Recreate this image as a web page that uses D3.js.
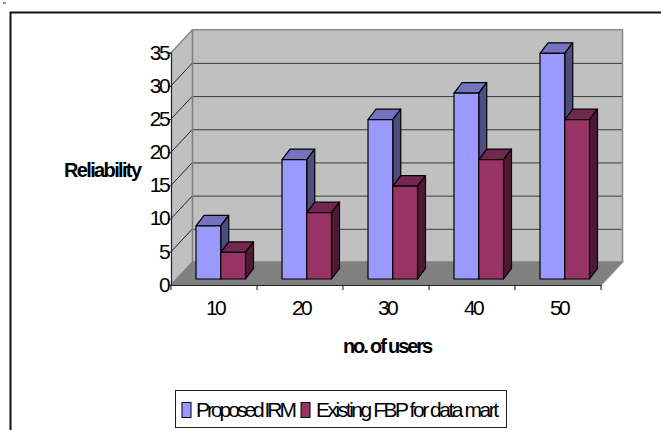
<!DOCTYPE html>
<html><head><meta charset="utf-8">
<script src="https://cdn.jsdelivr.net/npm/d3@7/dist/d3.min.js"></script>
<style>html,body{margin:0;padding:0;background:#fff}svg{display:block}text{font-family:"Liberation Sans",Arial,sans-serif;fill:#000}</style>
</head><body><svg id="c" width="661" height="430"></svg>
<script>
const categories=["10","20","30","40","50"];
const seriesNames=["Proposed IRM","Existing FBP for data mart"];
const proposedIRM=[8,18,24,28,34];
const existingFBP=[4,10,14,18,24];
const yTicks=[0,5,10,15,20,25,30,35];
const faces=[{front:"#9999ff",top:"#7373bf",side:"#4d4d80"},{front:"#993366",top:"#732650",side:"#4d1933"}];

const svg=d3.select("#c");
const L=171,R=601,B=285,T=52.7,DX=21.5,DY=23;
const x=d3.scaleBand().domain(categories).range([L,R]);
const sub=d3.scaleBand().domain(seriesNames).range([25,74.5]);
const y=d3.scaleLinear().domain([0,35]).range([B,T]);
const poly=(pts)=>"M"+pts.map(p=>p.join(",")).join("L")+"Z";

svg.append("rect").attr("x",3).attr("y",2).attr("width",3).attr("height",2).attr("fill","#999");
svg.append("path").attr("d",`M10.5,430V12.5H661`).attr("fill","none").attr("stroke","#111").attr("stroke-width",2);

// walls
svg.append("path").attr("d",poly([[L,T],[L+DX,T-DY],[L+DX,B-DY],[L,B]])).attr("fill","#c0c0c0");
svg.append("path").attr("d",poly([[L+DX,T-DY],[R+DX,T-DY],[R+DX,B-DY],[L+DX,B-DY]])).attr("fill","#c0c0c0");
svg.append("path").attr("d",poly([[L,B],[L+DX,B-DY],[R+DX,B-DY],[R,B]])).attr("fill","#808080");

// gridlines
const inner=yTicks.filter(t=>t>0&&t<35);
svg.append("g").selectAll("line").data(inner).join("line")
  .attr("x1",L+DX).attr("x2",R+DX).attr("y1",d=>y(d)-DY+.5).attr("y2",d=>y(d)-DY+.5)
  .attr("stroke","#3a3a3a").attr("stroke-width",1);
svg.append("g").selectAll("line").data(inner).join("line")
  .attr("x1",L).attr("x2",L+DX).attr("y1",d=>y(d)).attr("y2",d=>y(d)-DY)
  .attr("stroke","#222").attr("stroke-width",1);
svg.append("path").attr("d",`M${L},${T}L${L+DX},${T-DY}H${R+DX}V${B-DY}L${R},${B}`)
  .attr("fill","none").attr("stroke","#8a8a8a").attr("stroke-width",1.6);
svg.append("path").attr("d",`M${L+DX},${T-DY}V${B-DY}H${R+DX}M${L+DX},${B-DY}L${L},${B}`)
  .attr("fill","none").attr("stroke","#808080").attr("stroke-width",1.6);

// bars
const by=6,dx=8,dy=10.5;
const rows=categories.flatMap((c,i)=>[
  {c,s:seriesNames[0],v:proposedIRM[i],f:faces[0]},
  {c,s:seriesNames[1],v:existingFBP[i],f:faces[1]}]);
const g=svg.append("g").attr("stroke","#000").attr("stroke-width",1.2).attr("stroke-linejoin","round");
rows.forEach(r=>{
  const x0=x(r.c)+sub(r.s), x1=x0+sub.bandwidth(), yt=y(r.v)-by, yb=y(0)-by;
  g.append("path").attr("d",poly([[x0,yt],[x0+dx,yt-dy],[x1+dx,yt-dy],[x1,yt]])).attr("fill",r.f.top);
  g.append("path").attr("d",poly([[x1,yt],[x1+dx,yt-dy],[x1+dx,yb-dy],[x1,yb]])).attr("fill",r.f.side);
  g.append("rect").attr("x",x0).attr("y",yt).attr("width",x1-x0).attr("height",yb-yt).attr("fill",r.f.front);
});

// axes
const ya=svg.append("g").attr("transform",`translate(${L},0)`)
  .call(d3.axisLeft(y).tickValues(yTicks).tickSize(3).tickPadding(0));
const xa=svg.append("g").attr("transform",`translate(0,${B})`)
  .call(d3.axisBottom(x).tickSize(0).tickPadding(15));
xa.selectAll(".tick").attr("transform",d=>`translate(${x(d)+x.bandwidth()/2+1},0)`);
const edges=[...categories.map(c=>x(c)),R];
xa.selectAll("line.edge").data(edges).join("line").attr("class","edge")
  .attr("x1",d=>d).attr("x2",d=>d).attr("y1",0).attr("y2",5).attr("stroke","#222").attr("stroke-width",1.1);
[ya,xa].forEach(a=>{
  a.select(".domain").attr("stroke","#222").attr("stroke-width",1.2);
  a.selectAll(".tick line").attr("stroke","#222");
  a.selectAll("text").style("font-size","21px").style("letter-spacing","-2.6px").attr("fill","#000");
});
ya.selectAll("text").attr("dy","0.3em");

// titles
svg.append("text").attr("x",64).attr("y",177).attr("font-size",20).attr("font-weight",700)
  .attr("textLength",78).attr("lengthAdjust","spacing").text("Reliability");
svg.append("text").attr("x",343).attr("y",353).attr("font-size",20).attr("font-weight",700)
  .attr("textLength",90).attr("lengthAdjust","spacing").text("no. of users");

// legend
svg.append("rect").attr("x",175.5).attr("y",390.5).attr("width",331).attr("height",37)
  .attr("fill","#fff").attr("stroke","#222").attr("stroke-width",1);
const keyX=[182,301], txtX=[196,316], txtW=[101,183];
seriesNames.forEach((n,i)=>{
  svg.append("rect").attr("x",keyX[i]).attr("y",402.5).attr("width",9).attr("height",15)
    .attr("fill",faces[i].front).attr("stroke","#000").attr("stroke-width",1);
  svg.append("text").attr("x",txtX[i]).attr("y",417).attr("font-size",21)
    .attr("textLength",txtW[i]).attr("lengthAdjust","spacing").text(n);
});
</script></body></html>
